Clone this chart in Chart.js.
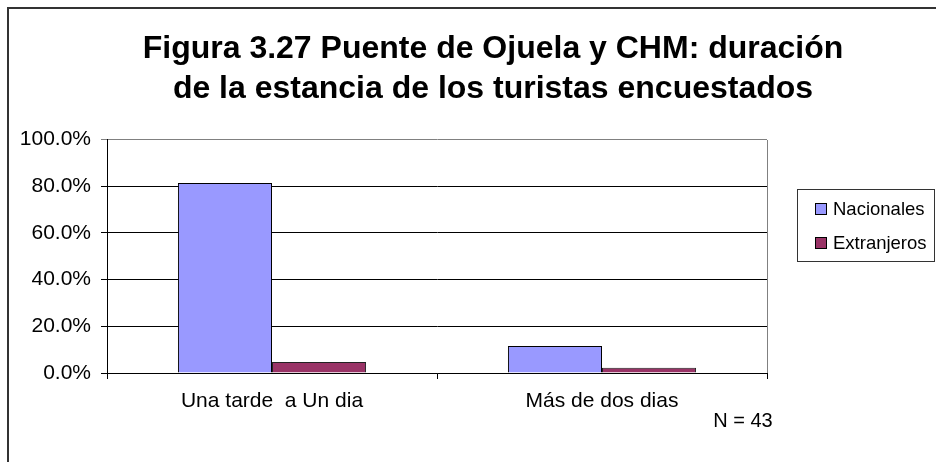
<!DOCTYPE html>
<html>
<head>
  <meta charset="utf-8">
  <title>Figura 3.27</title>
  <script src="https://cdn.jsdelivr.net/npm/chart.js"></script>
  <style>
    body { margin: 0; overflow: hidden; background: #fff; }
    #frame { position: absolute; left: 7px; top: 7px; width: 968px; height: 470px;
             border-left: 2px solid #333; border-top: 2px solid #333; }
  </style>
</head>
<body>
  <div id="frame"><canvas id="myChart" width="968" height="470"></canvas></div>

  <script>
    // Datos
    var categorias = ['Una tarde  a Un dia', 'Más de dos dias'];
    var nacionales = [81.4, 11.6];
    var extranjeros = [4.7, 2.3];
    var nombres = ['Nacionales', 'Extranjeros'];
    var colores = ['#9999FF', '#993366'];
    var titulo = ['Figura 3.27 Puente de Ojuela y CHM: duración', 'de la estancia de los turistas encuestados'];
    var nota = 'N = 43';

    var fuente = "'Liberation Sans', Arial, sans-serif";

    // Leyenda y bordes dibujados a mano (estilo Excel)
    var extras = {
      id: 'extras',
      afterDraw: function(chart) {
        var c = chart.ctx, a = chart.chartArea;
        c.save();
        // borde gris derecho del área de trazado
        c.strokeStyle = '#808080';
        c.lineWidth = 1;
        c.beginPath();
        c.moveTo(Math.round(a.right) + 0.5, Math.round(a.top));
        c.lineTo(Math.round(a.right) + 0.5, Math.round(a.bottom));
        c.stroke();

        // leyenda
        c.strokeStyle = '#333';
        c.strokeRect(788.5, 180.5, 137, 72);
        c.font = '18.5px ' + fuente;
        c.textBaseline = 'alphabetic';
        var ys = [194, 228];
        for (var i = 0; i < nombres.length; i++) {
          c.fillStyle = colores[i];
          c.fillRect(806, ys[i], 12, 12);
          c.strokeStyle = '#000';
          c.strokeRect(806.5, ys[i] + 0.5, 11, 11);
          c.fillStyle = '#000';
          c.fillText(nombres[i], 824, ys[i] + 12);
        }

        // N = 43
        c.font = '20px ' + fuente;
        c.textAlign = 'center';
        c.fillText(nota, 734, 418);
        c.restore();
      }
    };

    var ctx = document.getElementById('myChart').getContext('2d');
    var myChart = new Chart(ctx, {
      type: 'bar',
      data: {
        labels: categorias,
        datasets: [{
          label: nombres[0],
          data: nacionales,
          backgroundColor: colores[0],
          borderColor: '#000',
          borderWidth: 1
        }, {
          label: nombres[1],
          data: extranjeros,
          backgroundColor: colores[1],
          borderColor: '#222',
          borderWidth: 1
        }]
      },
      options: {
        responsive: false,
        animation: false,
        layout: { padding: 0 },
        datasets: { bar: { categoryPercentage: 0.57, barPercentage: 1 } },
        plugins: {
          legend: { display: false },
          tooltip: { enabled: false },
          title: {
            display: true,
            text: titulo,
            color: '#000',
            font: { family: fuente, size: 32, weight: 'bold', lineHeight: 1.25 },
            padding: { top: 20, bottom: 30.5 }
          }
        },
        scales: {
          x: {
            offset: true,
            grid: { display: true, drawOnChartArea: false, drawTicks: true, tickLength: 6, color: '#000', offset: true },
            border: { color: '#000' },
            ticks: { color: '#000', font: { family: fuente, size: 21 }, padding: 10, maxRotation: 0 },
            afterFit: function(s) { s.height = 106; }
          },
          y: {
            min: 0,
            max: 100,
            ticks: {
              stepSize: 20,
              color: '#000',
              padding: 10,
              font: { family: fuente, size: 21 },
              callback: function(v) { return v.toFixed(1) + '%'; }
            },
            grid: {
              tickLength: 6,
              color: function(c) { return c.tick && c.tick.value === 100 ? '#808080' : '#000'; }
            },
            border: { color: '#000' },
            afterFit: function(s) { s.width = 98; }
          },
          // eje vacío: deja el hueco de la leyenda a la derecha
          derecha: {
            position: 'right',
            grid: { display: false },
            border: { display: false },
            ticks: { display: false },
            afterFit: function(s) { s.width = 210; }
          }
        }
      },
      plugins: [extras]
    });
  </script>
</body>
</html>
